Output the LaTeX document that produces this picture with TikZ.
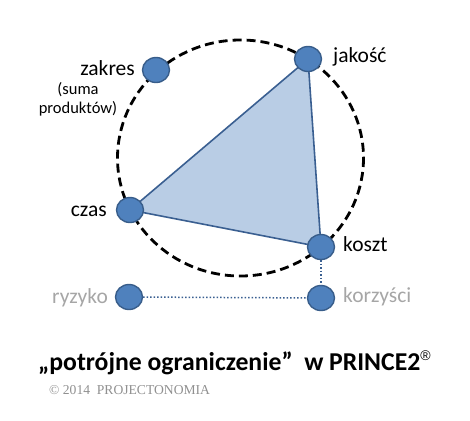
\documentclass[tikz,border=0pt]{standalone}
\usepackage{fontspec}
\setmainfont{Carlito}
\newfontfamily\serifc{Liberation Serif}
\newfontfamily\regsym{Liberation Sans}
\usetikzlibrary{shapes.geometric,backgrounds}
\definecolor{nodefill}{HTML}{4F81BD}
\definecolor{nodeedge}{HTML}{385D8A}
\definecolor{trifill}{HTML}{B9CDE5}
\definecolor{triedge}{HTML}{3A5F91}
\definecolor{graytxt}{HTML}{A6A6A6}
\definecolor{copygray}{HTML}{909090}
\begin{document}
\begin{tikzpicture}[x=1pt,y=-1pt,
  dot/.style={ellipse, fill=nodefill, draw=nodeedge, line width=1.4pt, minimum width=27pt, minimum height=25pt, inner sep=0pt},
  lbl/.style={font=\fontsize{21.5}{21.5}\selectfont, inner sep=0pt},
  glbl/.style={lbl, text=graytxt},
  small/.style={font=\fontsize{16.5}{16.5}\selectfont, inner sep=0pt},
  link/.style={draw=triedge, line width=1.5pt, dotted}]
\useasboundingbox (0,0) rectangle (470,420);
\draw[line width=2.8pt, dash pattern=on 9pt off 5pt] (240.5,158) ellipse [x radius=123, y radius=118];
\node[dot] (zak) at (156,70) {};
\node[dot] (jak) at (308,59) {};
\node[dot] (czas) at (130,210) {};
\node[dot] (kosz) at (321,247) {};
\node[dot] (ryz) at (129,297) {};
\node[dot] (korz) at (321,298) {};
\begin{scope}[on background layer]
\filldraw[fill=trifill, draw=triedge, line width=1.6pt, line join=round] (jak.center) -- (czas.center) -- (kosz.center) -- cycle;
\end{scope}
\draw[link] (kosz) -- (korz);
\draw[link] (ryz) -- (korz);
\node[lbl, anchor=base east] (tzak) at (135,75.7) {zakres};
\node[small, anchor=base] (tsuma) at (78,94) {(suma};
\node[small, anchor=base] (tprod) at (78,113.3) {produktów)};
\node[lbl, anchor=base west] (tjak) at (333,62) {jakość};
\node[lbl, anchor=base east] (tczas) at (107,216.7) {czas};
\node[lbl, anchor=base west] (tkosz) at (343,251.7) {koszt};
\node[glbl, anchor=base east] (tryz) at (108,303.3) {ryzyko};
\node[glbl, anchor=base west] (tkorz) at (343,302.7) {korzyści};
\node[font=\bfseries\fontsize{25.7}{25.7}\selectfont, inner sep=0pt, anchor=base west] (title) at (38,370) {„potrójne ograniczenie”\ \ w PRINCE2\raisebox{0.36em}{\regsym\mdseries\fontsize{14}{14}\selectfont ®}};
\node[font=\serifc\fontsize{13.6}{13.6}\selectfont, text=copygray, inner sep=0pt, anchor=base west] (copy) at (49,394) {© 2014\ \ PROJECTONOMIA};
\end{tikzpicture}
\end{document}
